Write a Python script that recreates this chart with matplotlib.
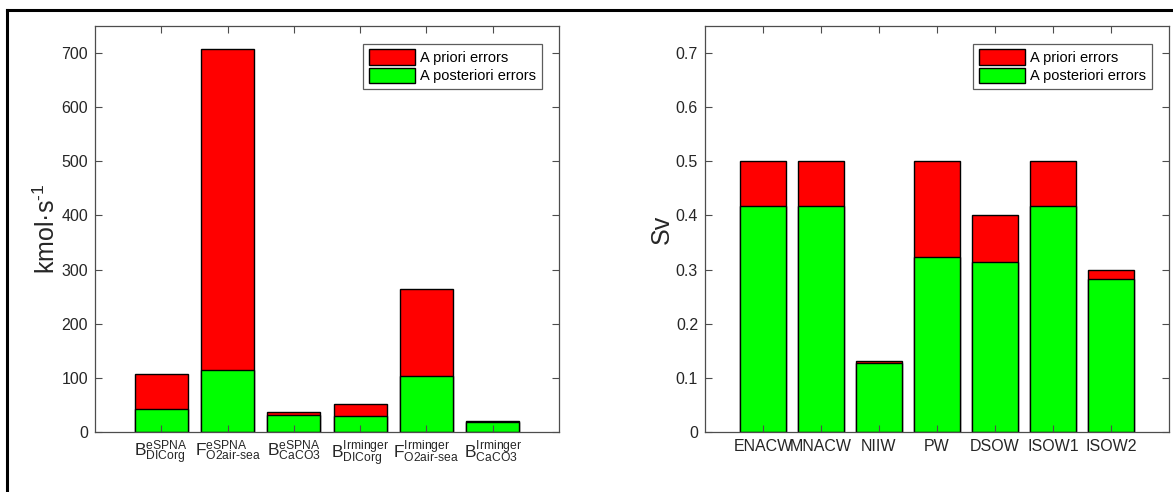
import matplotlib as mpl
from matplotlib import pyplot as plt
from matplotlib.lines import Line2D
import numpy as np

mpl.rcParams['font.family'] = ['Liberation Sans', 'DejaVu Sans']
mpl.rcParams['mathtext.fontset'] = 'custom'
mpl.rcParams['mathtext.rm'] = 'Liberation Sans'
mpl.rcParams['mathtext.it'] = 'Liberation Sans'

# left panel: kmol/s
flux_labels = [r'$\text{B}^{\text{eSPNA}}_{\text{DICorg}}$',
               r'$\text{F}^{\text{eSPNA}}_{\text{O2air-sea}}$',
               r'$\text{B}^{\text{eSPNA}}_{\text{CaCO3}}$',
               r'$\text{B}^{\text{Irminger}}_{\text{DICorg}}$',
               r'$\text{F}^{\text{Irminger}}_{\text{O2air-sea}}$',
               r'$\text{B}^{\text{Irminger}}_{\text{CaCO3}}$']
flux_prior = [107, 707, 37, 52, 264, 19.5]
flux_post = [43, 114, 31, 29.5, 103, 18.5]

# right panel: Sv
water_labels = ['ENACW', 'MNACW', 'NIIW', 'PW', 'DSOW', 'ISOW1', 'ISOW2']
water_prior = [0.5, 0.5, 0.131, 0.5, 0.4, 0.5, 0.3]
water_post = [0.4175, 0.418, 0.1275, 0.3225, 0.3145, 0.417, 0.2825]

RED = '#ff0000'
GREEN = '#00ff00'
SPINE = '#4d4d4d'

fig = plt.figure(figsize=(11.73, 4.92), dpi=100)
ax1 = fig.add_axes([95/1173, 1-432/492, 464/1173, 406/492])
ax2 = fig.add_axes([705/1173, 1-432/492, 464/1173, 406/492])


def draw(ax, labels, prior, post, ylim, yticks, ylabel, tickfmt):
    x = np.arange(1, len(labels)+1)
    ax.bar(x, prior, width=0.8, color=RED, edgecolor='black', linewidth=1.0,
           label='A priori errors')
    ax.bar(x, post, width=0.8, color=GREEN, edgecolor='black', linewidth=1.0,
           label='A posteriori errors')
    ax.set_xlim(0, len(labels)+1)
    ax.set_ylim(*ylim)
    ax.set_xticks(x)
    ax.set_xticklabels(labels)
    ax.set_yticks(yticks)
    ax.set_yticklabels([tickfmt(v) for v in yticks])
    ax.tick_params(direction='in', top=True, right=True, length=5,
                   width=0.8, color=SPINE, labelsize=11.5, labelcolor='#262626',
                   pad=5)
    for s in ax.spines.values():
        s.set_color(SPINE)
        s.set_linewidth(0.9)
    ax.set_ylabel(ylabel, fontsize=18, color='#262626', labelpad=1)
    leg = ax.legend(loc='upper right', fontsize=10.5, frameon=True, fancybox=False,
                    edgecolor='#333333', handlelength=3.2, handleheight=1.25,
                    borderaxespad=1.2, borderpad=0.4, labelspacing=0.2,
                    handletextpad=0.3)
    leg.get_frame().set_linewidth(0.9)


draw(ax1, flux_labels, flux_prior, flux_post, (0, 750),
     np.arange(0, 701, 100), 'kmol·s$^{\\text{-1}}$', lambda v: '%d' % v)
draw(ax2, water_labels, water_prior, water_post, (0, 0.75),
     np.round(np.arange(0, 0.71, 0.1), 1), 'Sv',
     lambda v: '0' if v == 0 else '%.1f' % v)
ax1.tick_params(axis='x', labelsize=12.5)

# outer frame
fig.add_artist(Line2D([7/1173, 7/1173], [0, 1-10/492], color='black',
                      linewidth=2.2, transform=fig.transFigure))
fig.add_artist(Line2D([7/1173, 1], [1-10/492, 1-10/492], color='black',
                      linewidth=2.2, transform=fig.transFigure))

fig.savefig('out.png', dpi=100)
